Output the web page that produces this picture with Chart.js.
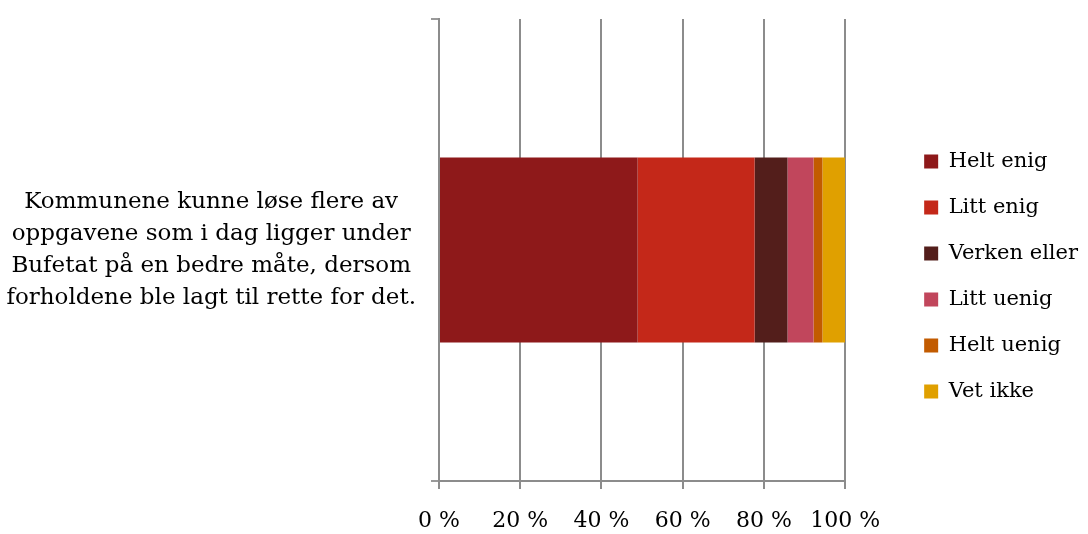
<!DOCTYPE html>
<html>
<head>
<meta charset="utf-8">
<script src="https://cdn.jsdelivr.net/npm/chart.js@4"></script>
<style>
html,body{margin:0;padding:0;background:#fff;}
#wrap{width:1088px;height:534px;position:relative;}
</style>
</head>
<body>
<div id="wrap"><canvas id="c"></canvas></div>
<script>
const categories = [['Kommunene kunne løse flere av','oppgavene som i dag ligger under','Bufetat på en bedre måte, dersom','forholdene ble lagt til rette for det.']];
const seriesNames = ['Helt enig','Litt enig','Verken eller','Litt uenig','Helt uenig','Vet ikke'];
const helt_enig = [48.9];
const litt_enig = [28.8];
const verken_eller = [8.1];
const litt_uenig = [6.4];
const helt_uenig = [2.2];
const vet_ikke = [5.6];
const xTicks = [0,20,40,60,80,100];
const colors = ['#8E191A','#C42819','#531E1B','#C1465C','#C25B00','#E0A000'];

const seriesValues = [helt_enig, litt_enig, verken_eller, litt_uenig, helt_uenig, vet_ikke];
const FAM = "'DejaVu Serif', serif";

new Chart(document.getElementById('c'), {
  type: 'bar',
  data: {
    labels: categories,
    datasets: seriesNames.map((n,i)=>({
      label: n,
      data: seriesValues[i],
      backgroundColor: colors[i],
      borderWidth: 0,
      barPercentage: 0.5,
      categoryPercentage: 0.8
    }))
  },
  options: {
    indexAxis: 'y',
    responsive: true,
    maintainAspectRatio: false,
    animation: false,
    layout: { padding: { top: 19, right: 9, bottom: 0, left: 0 } },
    scales: {
      x: {
        stacked: true,
        min: 0, max: 100,
        afterBuildTicks: s => { s.ticks = xTicks.map(v=>({value:v})); },
        ticks: { callback: v => v + ' %', padding: 19, color: '#000', font: { family: FAM, size: 22 }, maxRotation: 0 },
        grid: { color: '#8c8c8c', lineWidth: 2, tickLength: 8 },
        border: { color: '#8c8c8c', width: 2 },
        afterFit: s => { s.height = 53; }
      },
      y: {
        stacked: true,
        offset: true,
        grid: { drawOnChartArea: false, drawTicks: true, tickLength: 8, color: '#9a9a9a', lineWidth: 2, offset: true },
        border: { color: '#8c8c8c', width: 2 },
        ticks: { crossAlign: 'center', padding: 15, color: '#000', font: { family: FAM, size: 23, lineHeight: 1.38 } },
        afterFit: s => { s.width = 439; s.paddingTop = 0; s.paddingBottom = 0; }
      },
      gap: {
        type: 'linear',
        position: 'right',
        display: true,
        grid: { display: false },
        border: { display: false },
        ticks: { display: false },
        afterFit: s => { s.width = 54; s.paddingTop = 0; s.paddingBottom = 0; }
      }
    },
    plugins: {
      legend: {
        position: 'right',
        labels: { boxWidth: 14, boxHeight: 14, padding: 25, color: '#000', font: { family: FAM, size: 21 } }
      },
      tooltip: { enabled: false }
    }
  }
});
</script>
</body>
</html>
